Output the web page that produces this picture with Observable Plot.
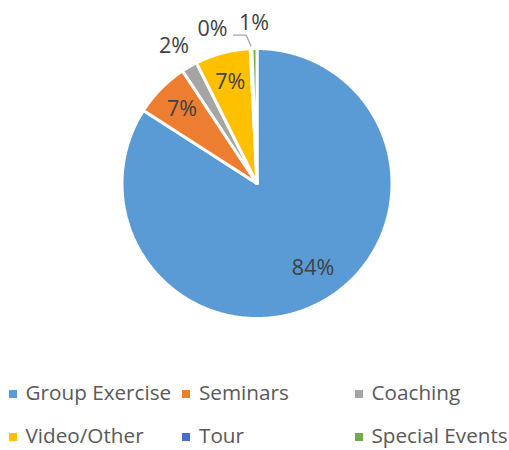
<!DOCTYPE html>
<html>
<head>
<meta charset="utf-8">
<script src="https://cdn.jsdelivr.net/npm/d3@7"></script>
<script src="https://cdn.jsdelivr.net/npm/@observablehq/plot@0.6"></script>
<style>
  html, body { margin: 0; padding: 0; background: #fff; }
  #wrap { position: relative; width: 509px; height: 450px; overflow: hidden; font-family: "Open Sans", sans-serif; }
  #chart { position: absolute; left: 0; top: 0; }
  .item { position: absolute; height: 24px; line-height: 24px; font-size: 20.7px; color: #595959; white-space: nowrap; }
  .sw { position: absolute; width: 8px; height: 8px; top: 10px; left: 0; }
  .lbl { position: absolute; top: 0; left: 17px; }
</style>
</head>
<body>
<div id="wrap"><div id="chart"></div><div id="legend"></div></div>
<script>
const categories = ["Group Exercise", "Seminars", "Coaching", "Video/Other", "Tour", "Special Events"];
const values = [84.1, 6.6, 1.9, 6.6, 0.2, 0.6];
const colors = ["#5B9BD5", "#ED7D31", "#A5A5A5", "#FFC000", "#4472C4", "#70AD47"];

const total = d3.sum(values);
const rad = Math.PI / 180;
let acc = 0;
const slices = categories.map((c, i) => {
  const a0 = acc / total * 360;
  acc += values[i];
  const a1 = acc / total * 360;
  return { cat: c, value: values[i], pct: values[i] / total * 100, a0, a1, mid: (a0 + a1) / 2 };
});

// polygon points for each slice (clockwise from 12 o'clock)
const poly = [];
for (const s of slices) {
  poly.push({ cat: s.cat, x: 0, y: 0 });
  const n = Math.max(2, Math.ceil((s.a1 - s.a0) / 0.5));
  for (let k = 0; k <= n; k++) {
    const a = (s.a0 + (s.a1 - s.a0) * k / n) * rad;
    poly.push({ cat: s.cat, x: Math.sin(a), y: Math.cos(a) });
  }
  poly.push({ cat: s.cat, x: 0, y: 0 });
}

// labels
const labels = [];
const leaders = [];
const inside = slices.filter(s => s.pct >= 5);
for (const s of inside) {
  const ang = s.pct > 50 ? s.mid - 5 : s.mid;
  const r = s.pct > 50 ? 0.75 : 0.78;
  labels.push({ text: Math.round(s.pct) + "%", x: r * Math.sin(ang * rad), y: r * Math.cos(ang * rad) });
}
const outside = slices.filter(s => s.pct < 5).sort((a, b) => b.mid - a.mid);
let prev = Infinity;
for (const s of outside) {
  const ang = Math.min(s.mid, prev - 15);
  prev = ang;
  const lx = 1.19 * Math.sin(ang * rad), ly = 1.19 * Math.cos(ang * rad);
  labels.push({ text: Math.round(s.pct) + "%", x: lx, y: ly });
  if (s.mid - ang > 5) {
    const ex = 1.02 * Math.sin(s.mid * rad), ey = 1.02 * Math.cos(s.mid * rad);
    leaders.push({ id: s.cat, x: lx + 0.155, y: ly - 0.045 });
    leaders.push({ id: s.cat, x: ex - 0.035, y: ly - 0.045 });
    leaders.push({ id: s.cat, x: ex, y: ey });
  }
}

const plot = Plot.plot({
  width: 509,
  height: 340,
  margin: 0,
  x: { domain: [-1, 1], range: [121.5, 391.5], axis: null },
  y: { domain: [-1, 1], range: [318, 48], axis: null },
  color: { domain: categories, range: colors },
  style: { fontFamily: "Open Sans, sans-serif", background: "white" },
  marks: [
    Plot.line(poly, { x: "x", y: "y", z: "cat", fill: "cat", stroke: "white", strokeWidth: 3, strokeLinejoin: "miter", curve: "linear" }),
    Plot.line(leaders, { x: "x", y: "y", z: "id", stroke: "#A6A6A6", strokeWidth: 1.3, curve: "linear" }),
    Plot.text(labels, { x: "x", y: "y", text: "text", fontSize: 21.5, fill: "#404040" })
  ]
});
document.getElementById("chart").appendChild(plot);

// legend (HTML below the pie)
const legendCols = [8.5, 182, 354.5];
const legendRows = [380, 423];
const leg = document.getElementById("legend");
categories.forEach((c, i) => {
  const div = document.createElement("div");
  div.className = "item";
  div.style.left = legendCols[i % 3] + "px";
  div.style.top = legendRows[Math.floor(i / 3)] + "px";
  const sw = document.createElement("span");
  sw.className = "sw";
  sw.style.background = colors[i];
  const tx = document.createElement("span");
  tx.className = "lbl";
  tx.textContent = c;
  div.appendChild(sw);
  div.appendChild(tx);
  leg.appendChild(div);
});
</script>
</body>
</html>
